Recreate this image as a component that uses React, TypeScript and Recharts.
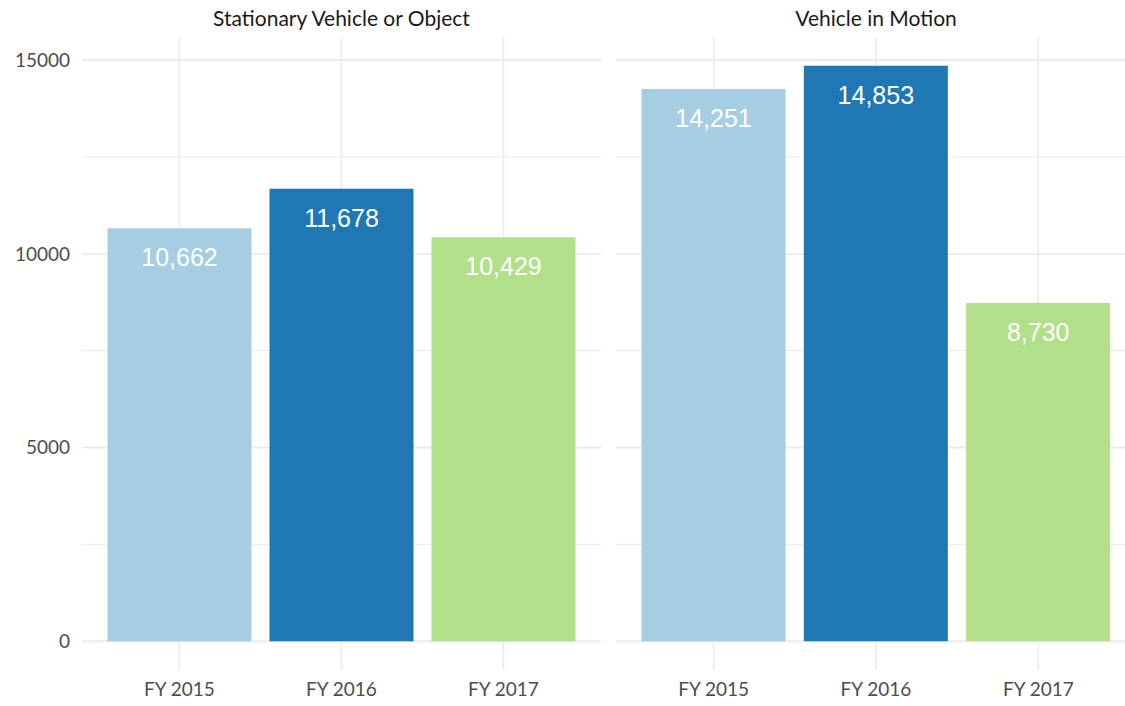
import { BarChart, Bar, XAxis, YAxis, CartesianGrid, LabelList, Cell } from "recharts";

const categories = ["FY 2015", "FY 2016", "FY 2017"];
const stationary = [10662, 11678, 10429];
const motion = [14251, 14853, 8730];
const majorTicks = [0, 5000, 10000, 15000];
const minorTicks = [2500, 7500, 12500];
const panelTitles = ["Stationary Vehicle or Object", "Vehicle in Motion"];
const barColors = ["#a6cee3", "#1f78b4", "#b2df8a"];

const FONT = "Lato, 'Open Sans', sans-serif";
const GRID = "#ebebeb";

// ggplot-style 5% expansion on the shared y scale
const yMax = Math.max(...stationary, ...motion);
const yDomain = [-yMax * 0.05, yMax * 1.05];

const H = 706;
const TOP = 37;
const XAXIS_H = 36;

function toRows(values: number[]) {
  return categories.map((year, i) => ({ year, value: values[i] }));
}

interface PanelProps {
  values: number[];
  showYAxis: boolean;
  width: number;
}

function Panel({ values, showYAxis, width }: PanelProps) {
  const data = toRows(values);
  return (
    <BarChart
      width={width}
      height={H}
      data={data}
      margin={{ top: TOP, right: 0, bottom: 0, left: 0 }}
      barCategoryGap={9}
    >
      <CartesianGrid vertical={false} horizontalValues={minorTicks} stroke={GRID} strokeWidth={1} />
      <CartesianGrid vertical={false} horizontalValues={majorTicks} stroke={GRID} strokeWidth={1.8} />
      <CartesianGrid horizontal={false} verticalValues={categories} stroke={GRID} strokeWidth={1.6} />
      <XAxis
        dataKey="year"
        height={XAXIS_H}
        padding={{ left: 16.5, right: 16.5 }}
        axisLine={false}
        tickLine={false}
        tickSize={0}
        tickMargin={13}
        tick={{ fill: "#4d4d4d", fontSize: 19, fontFamily: FONT }}
        interval={0}
      />
      <YAxis
        hide={!showYAxis}
        width={82}
        type="number"
        domain={yDomain}
        ticks={majorTicks}
        allowDataOverflow
        axisLine={false}
        tickLine={false}
        tickSize={0}
        tickMargin={12}
        tick={{ fill: "#4d4d4d", fontSize: 19, fontFamily: FONT }}
      />
      <Bar dataKey="value" isAnimationActive={false}>
        {data.map((d, i) => (
          <Cell key={d.year} fill={barColors[i]} />
        ))}
        <LabelList
          dataKey="value"
          position="insideTop"
          offset={20}
          fill="#ffffff"
          fontSize={25}
          fontFamily="'Liberation Sans', Arial, sans-serif"
          formatter={(v: number) => v.toLocaleString("en-US")}
        />
      </Bar>
    </BarChart>
  );
}

export default function App() {
  const titleStyle = {
    position: "absolute" as const,
    top: 5,
    textAlign: "center" as const,
    fontFamily: FONT,
    fontSize: 21,
    color: "#1a1a1a",
    lineHeight: "26px",
  };
  return (
    <div
      style={{
        position: "absolute",
        left: 0,
        top: 0,
        width: 1125,
        height: H,
        overflow: "hidden",
        background: "#ffffff",
      }}
    >
      <div style={{ position: "absolute", left: 0, top: 0 }}>
        <Panel values={stationary} showYAxis width={601} />
      </div>
      <div style={{ position: "absolute", left: 616, top: 0 }}>
        <Panel values={motion} showYAxis={false} width={520} />
      </div>
      <div style={{ ...titleStyle, left: 82, width: 519 }}>{panelTitles[0]}</div>
      <div style={{ ...titleStyle, left: 616, width: 520 }}>{panelTitles[1]}</div>
    </div>
  );
}
